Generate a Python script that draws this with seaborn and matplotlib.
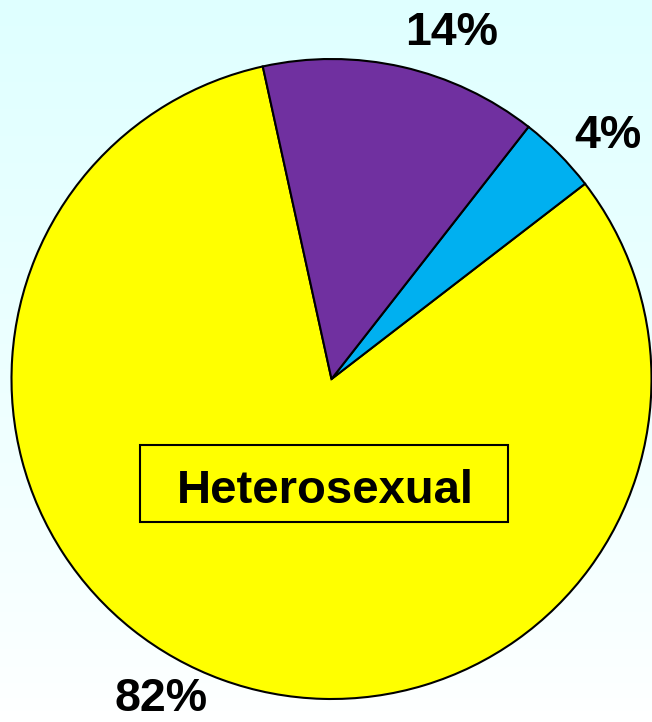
import numpy as np
import matplotlib
matplotlib.use("Agg")
import matplotlib.pyplot as plt
import seaborn as sns
from matplotlib.patches import Rectangle

sns.set_style("white")
plt.rcParams['font.family'] = ['Liberation Sans', 'DejaVu Sans']

categories = ["Heterosexual", "Other", "MSM"]
values = [82, 4, 14]
colors = ["#FFFF00", "#00B0F0", "#7030A0"]
pct_labels = ["82%", "4%", "14%"]

W, H = 652, 722
fig = plt.figure(figsize=(W / 100, H / 100), dpi=100)

# gradient background
bg = fig.add_axes([0, 0, 1, 1])
bg.axis("off")
top = np.array([0.875, 1.0, 1.0])
bot = np.array([1.0, 1.0, 1.0])
t = np.linspace(0, 1, 256)[:, None]
grad = (top[None, :] * (1 - t) ** 0.8 + bot[None, :] * (1 - (1 - t) ** 0.8))
bg.imshow(grad[:, None, :], aspect="auto", extent=[0, 1, 0, 1], origin="upper")
bg.set_xlim(0, 1)
bg.set_ylim(0, 1)

ax = fig.add_axes([0, 0, 1, 1])
ax.patch.set_alpha(0)
ax.pie(values, colors=colors, startangle=102.4, counterclock=True,
       wedgeprops=dict(edgecolor="black", linewidth=1.5))
cx, cy, r = 331.5, 379, 320
ax.set_xlim(-cx / r, (W - cx) / r)
ax.set_ylim(-(H - cy) / r, cy / r)
ax.set_aspect("equal")
ax.axis("off")

label_pos = {"82%": (-0.533, -1.037), "4%": (0.864, 0.722), "14%": (0.375, 1.044)}
for lab in pct_labels:
    x, y = label_pos[lab]
    ax.text(x, y, lab, ha="center", va="baseline", fontsize=33.5,
            fontweight="bold", color="black")

ax.add_patch(Rectangle((-0.598, -0.447), 1.15, 0.241, facecolor="none",
                       edgecolor="black", linewidth=1.5, zorder=5))
ax.text(-0.02, -0.388, categories[0], ha="center", va="baseline",
        fontsize=34, fontweight="bold", color="black", zorder=6)

fig.savefig("out.png", dpi=100)
